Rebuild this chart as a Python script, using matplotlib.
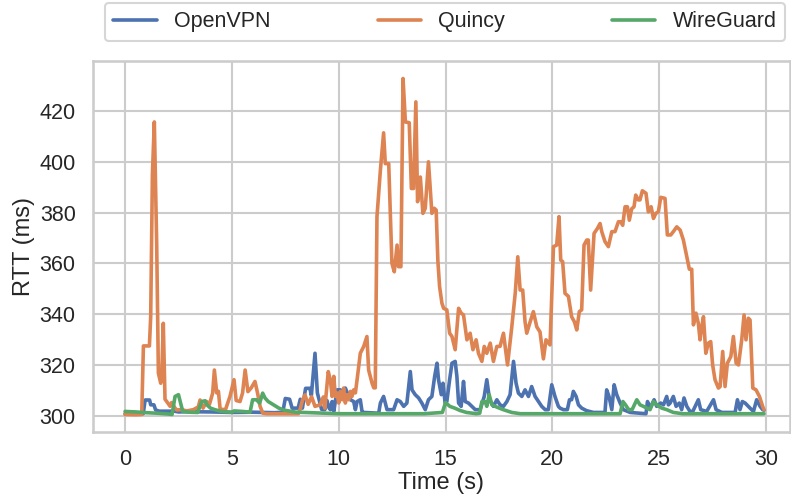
import matplotlib
matplotlib.use("Agg")
import matplotlib.pyplot as plt
import seaborn as sns

# RTT samples per tunnel implementation (time in s, RTT in ms)
openvpn_t = [0.0, 0.85, 0.94, 1.15, 1.2, 1.35, 1.43, 1.6, 2.3, 2.5, 3.0, 4.0, 5.0, 6.0, 7.0,
             7.38, 7.5, 7.7, 7.82, 8.1, 8.2, 8.3, 8.45, 8.65, 8.72, 8.89, 9.0, 9.2, 9.35,
             9.45, 9.55, 9.61, 9.69, 9.77, 9.92, 10.08, 10.2, 10.31, 10.47, 10.55, 10.7,
             10.78, 10.86, 11.01, 11.09, 11.17, 11.87, 11.95, 12.1, 12.26, 12.57, 12.73,
             12.88, 13.04, 13.19, 13.35, 13.43, 13.58, 13.74, 13.89, 14.05, 14.2, 14.36,
             14.49, 14.6, 14.67, 14.8, 14.88, 14.98, 15.06, 15.19, 15.3, 15.45, 15.53,
             15.61, 15.73, 15.84, 15.92, 16.07, 16.23, 16.39, 16.62, 16.81, 16.93, 17.06,
             17.24, 17.4, 17.55, 17.71, 17.87, 18.02, 18.18, 18.3, 18.41, 18.57, 18.72,
             18.88, 19.03, 19.19, 19.35, 19.5, 19.66, 19.81, 19.97, 20.12, 20.28, 20.36,
             20.51, 20.7, 20.8, 20.9, 20.98, 21.11, 21.22, 21.37, 21.6, 21.92, 22.46,
             22.54, 22.65, 22.78, 22.89, 23.01, 23.17, 23.32, 23.64, 24.1, 24.38, 24.45,
             24.57, 24.76, 24.88, 25.07, 25.2, 25.35, 25.43, 25.51, 25.66, 25.79, 25.94,
             26.05, 26.16, 26.29, 26.44, 26.57, 26.83, 26.94, 27.22, 27.54, 27.66, 27.93,
             28.55, 28.66, 28.78, 28.89, 29.02, 29.17, 29.25, 29.41, 29.56, 29.72, 29.84,
             29.9]
openvpn_rtt = [300.8, 300.8, 306.2, 306.2, 304.3, 304.3, 302.3, 301.8, 301.8, 301.5, 301.6,
               301.5, 301.3, 301.4, 301.2, 301.4, 306.8, 306.5, 303.0, 303.0, 306.5, 303.0,
               310.8, 310.8, 308.0, 324.6, 309.0, 302.5, 302.4, 306.0, 303.0, 302.4, 305.6,
               301.7, 310.2, 310.2, 307.6, 310.9, 307.6, 306.3, 305.6, 302.4, 305.6, 306.3,
               301.7, 301.3, 301.0, 305.0, 307.6, 302.4, 302.4, 306.3, 305.6, 303.7, 305.0,
               317.4, 310.2, 308.3, 307.0, 305.0, 302.4, 306.3, 307.6, 315.5, 320.7, 314.2,
               308.3, 312.8, 305.0, 305.6, 314.2, 320.7, 321.4, 315.5, 305.0, 303.7, 313.5,
               305.6, 305.0, 303.7, 302.4, 302.4, 307.6, 314.2, 306.3, 303.7, 306.3, 304.3,
               303.7, 305.6, 308.3, 321.4, 312.8, 308.9, 307.6, 310.2, 307.6, 311.5, 307.6,
               305.6, 303.7, 302.4, 302.4, 312.2, 307.6, 303.7, 303.0, 302.4, 302.4, 306.3,
               306.3, 309.6, 307.6, 304.3, 303.0, 302.0, 301.3, 301.3, 310.2, 307.6, 302.4,
               312.2, 308.3, 305.0, 302.4, 301.3, 301.0, 300.8, 305.6, 303.0, 306.3, 303.7,
               305.0, 304.3, 307.6, 304.3, 305.0, 307.6, 303.7, 305.0, 302.4, 307.0, 303.7,
               301.7, 301.7, 306.3, 302.4, 301.7, 306.3, 302.4, 301.3, 301.3, 306.3, 302.4,
               305.6, 305.0, 303.7, 303.0, 301.7, 306.3, 303.7, 302.4, 302.2]

quincy_t = [0.0, 0.5, 0.78, 0.86, 1.14, 1.2, 1.28, 1.37, 1.48, 1.56, 1.67, 1.72, 1.79, 1.87,
            1.95, 2.11, 2.18, 2.34, 2.42, 2.65, 2.89, 3.2, 3.43, 3.51, 3.65, 3.82, 3.95, 4.1,
            4.18, 4.29, 4.37, 4.45, 4.7, 4.91, 5.1, 5.2, 5.38, 5.5, 5.62, 5.75, 5.9, 6.08,
            6.2, 6.32, 6.45, 6.63, 7.2, 7.8, 8.11, 8.19, 8.3, 8.42, 8.57, 8.73, 8.89, 9.13,
            9.28, 9.35, 9.51, 9.61, 9.69, 9.77, 9.84, 9.92, 10.0, 10.08, 10.16, 10.23,
            10.31, 10.39, 10.47, 10.55, 10.62, 10.7, 10.78, 10.86, 11.01, 11.17, 11.32,
            11.4, 11.56, 11.64, 11.71, 11.79, 11.95, 12.1, 12.18, 12.34, 12.49, 12.6, 12.73,
            12.8, 12.91, 13.01, 13.12, 13.3, 13.4, 13.5, 13.61, 13.69, 13.82, 13.94, 14.05,
            14.2, 14.36, 14.47, 14.56, 14.64, 14.72, 14.83, 14.91, 15.06, 15.19, 15.3,
            15.45, 15.61, 15.73, 15.84, 16.0, 16.15, 16.28, 16.43, 16.54, 16.7, 16.81,
            16.93, 17.09, 17.24, 17.4, 17.55, 17.71, 17.9, 18.1, 18.26, 18.38, 18.49, 18.61,
            18.72, 18.8, 18.96, 19.11, 19.27, 19.42, 19.58, 19.7, 19.89, 20.05, 20.2, 20.31,
            20.39, 20.48, 20.59, 20.75, 20.9, 21.03, 21.14, 21.26, 21.37, 21.48, 21.61,
            21.68, 21.79, 21.95, 22.11, 22.23, 22.31, 22.46, 22.62, 22.78, 22.93, 23.09,
            23.2, 23.29, 23.4, 23.51, 23.6, 23.71, 23.82, 23.9, 24.02, 24.1, 24.21, 24.38,
            24.49, 24.62, 24.73, 24.84, 24.96, 25.07, 25.27, 25.38, 25.54, 25.66, 25.82,
            25.98, 26.13, 26.29, 26.41, 26.52, 26.6, 26.72, 26.83, 26.91, 26.99, 27.07,
            27.18, 27.3, 27.41, 27.5, 27.61, 27.77, 27.85, 27.97, 28.08, 28.19, 28.35,
            28.47, 28.6, 28.71, 28.86, 28.97, 29.06, 29.17, 29.25, 29.38, 29.53, 29.69,
            29.84, 29.9]
quincy_rtt = [300.5, 300.4, 300.5, 327.5, 327.5, 339.0, 395.0, 415.7, 368.0, 316.8, 312.8,
              316.8, 336.4, 306.5, 305.6, 303.7, 305.2, 303.0, 302.3, 302.4, 301.9, 302.4,
              303.5, 306.2, 303.0, 305.6, 304.5, 308.9, 318.0, 309.0, 309.6, 302.6, 302.4,
              307.6, 314.2, 306.0, 305.6, 309.0, 318.0, 309.5, 310.9, 313.5, 309.0, 303.7,
              301.0, 300.8, 300.8, 300.8, 300.8, 302.4, 306.0, 308.2, 304.5, 307.5, 303.7,
              304.3, 307.4, 303.0, 317.4, 314.0, 307.6, 315.5, 307.6, 309.0, 305.0, 309.6,
              306.3, 310.9, 305.0, 308.3, 306.3, 309.6, 307.6, 310.2, 309.0, 314.2, 324.6,
              327.3, 331.2, 318.0, 312.8, 311.0, 311.0, 378.4, 396.7, 411.4, 399.3, 399.3,
              360.0, 356.7, 367.2, 358.7, 358.7, 432.8, 415.7, 415.4, 389.5, 389.5, 423.6,
              384.3, 394.0, 379.7, 381.7, 400.0, 379.7, 381.7, 381.0, 361.0, 350.9, 344.3,
              342.3, 341.7, 332.5, 331.2, 326.0, 342.3, 340.4, 339.7, 329.9, 332.5, 326.0,
              329.9, 324.6, 321.4, 327.3, 324.6, 328.6, 321.4, 327.3, 327.3, 332.5, 320.0,
              335.0, 348.2, 362.6, 349.5, 349.5, 337.0, 332.5, 337.0, 341.0, 335.0, 333.0,
              322.4, 329.9, 327.9, 366.6, 367.2, 378.4, 361.3, 360.7, 348.2, 347.0, 339.0,
              337.0, 333.8, 341.0, 341.7, 367.2, 369.2, 369.2, 349.5, 371.8, 373.8, 375.7,
              372.5, 368.6, 366.6, 372.5, 372.5, 376.4, 376.4, 375.0, 382.3, 382.3, 377.0,
              381.5, 382.3, 386.9, 385.0, 385.0, 388.6, 387.6, 380.3, 382.3, 377.7, 379.7,
              380.3, 386.0, 385.6, 371.2, 371.2, 372.5, 374.4, 373.1, 369.2, 362.6, 357.7,
              357.7, 335.8, 340.4, 336.4, 329.9, 335.0, 339.0, 324.6, 328.6, 329.2, 320.0,
              314.2, 310.9, 311.5, 325.3, 311.5, 320.7, 323.3, 331.2, 320.7, 320.0, 329.9,
              339.7, 329.9, 338.4, 337.7, 310.9, 310.2, 307.6, 303.7, 302.4]

wireguard_t = [0.0, 0.5, 1.0, 1.5, 2.0, 2.2, 2.34, 2.5, 2.6, 2.7, 3.0, 3.4, 3.59, 3.75, 3.83,
               4.0, 4.2, 4.5, 5.0, 5.1, 5.5, 5.85, 5.97, 6.15, 6.3, 6.44, 6.55, 6.7, 6.95,
               7.2, 7.45, 8.0, 8.7, 10.0, 12.0, 14.0, 14.85, 15.0, 15.2, 15.43, 15.67,
               15.98, 16.45, 16.6, 16.7, 16.85, 16.93, 17.04, 17.17, 17.4, 17.7, 18.1, 18.5,
               20.0, 23.17, 23.3, 23.42, 23.57, 23.73, 23.95, 24.1, 24.26, 24.42, 24.57,
               24.73, 24.89, 25.12, 25.35, 25.66, 26.1, 29.9]
wireguard_rtt = [301.7, 301.5, 301.2, 301.0, 300.7, 300.5, 307.6, 308.3, 305.0, 301.7, 301.4,
                 301.3, 305.6, 305.9, 304.3, 303.0, 302.4, 301.7, 301.4, 301.9, 301.7, 301.4,
                 306.3, 306.3, 305.0, 308.9, 307.0, 305.6, 304.3, 303.0, 302.2, 301.4, 301.2,
                 300.8, 300.8, 300.8, 301.3, 305.2, 303.7, 303.0, 302.1, 301.3, 300.8, 301.0,
                 305.6, 305.6, 303.7, 308.3, 304.3, 303.4, 302.4, 301.3, 300.8, 300.8, 300.8,
                 305.6, 304.3, 302.4, 302.4, 306.3, 304.3, 303.7, 303.0, 302.4, 305.6, 304.3,
                 303.0, 302.4, 301.3, 300.8, 300.8]

series = [("OpenVPN", openvpn_t, openvpn_rtt),
          ("Quincy", quincy_t, quincy_rtt),
          ("WireGuard", wireguard_t, wireguard_rtt)]

sns.set_theme(style="whitegrid", context="talk")
plt.rcParams["font.family"] = ["Liberation Sans", "DejaVu Sans"]

fig = plt.figure(figsize=(7.91, 4.99), dpi=100)
ax = fig.add_axes([93 / 791, 1 - 432 / 499, 697 / 791, 371 / 499])

palette = sns.color_palette("deep")
for (name, t, v), color in zip(series, palette):
    ax.plot(t, v, color=color, linewidth=2.6, label=name)

ax.set_xlim(-1.5, 31.12)
ax.set_ylim(293.6, 439.7)
ax.set_xticks([0, 5, 10, 15, 20, 25, 30])
ax.set_yticks([300, 320, 340, 360, 380, 400, 420])
ax.tick_params(labelsize=15.5)
ax.set_xlabel("Time (s)", fontsize=17, labelpad=1)
ax.set_ylabel("RTT (ms)", fontsize=17, labelpad=3)

ax.legend(loc="lower left", bbox_to_anchor=(0.017, 1.054, 0.976, 0.102),
          mode="expand", ncol=3, borderaxespad=0, fontsize=15.5, frameon=True)

fig.savefig("out.png", dpi=100)
